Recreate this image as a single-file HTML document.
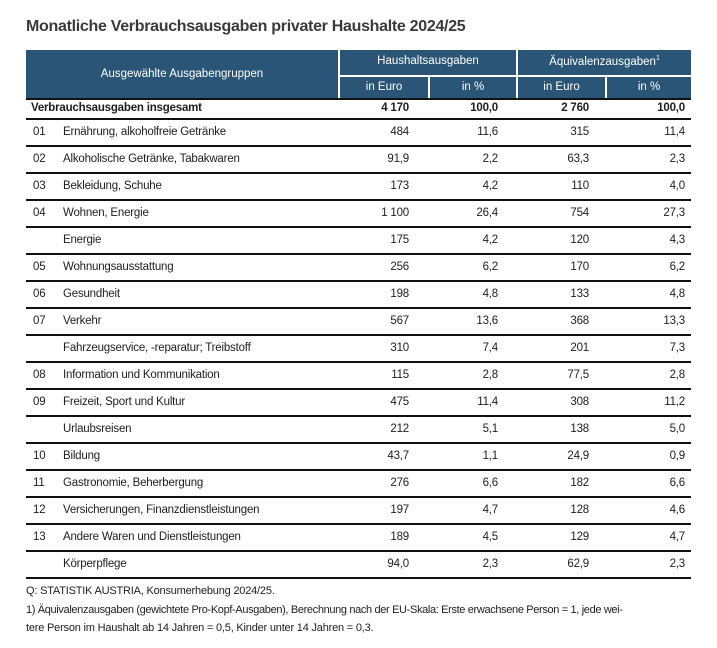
<!DOCTYPE html>
<html><head><meta charset="utf-8"><style>
body{margin:0;width:717px;height:648px;background:#fff;font-family:"Liberation Sans",Arial,sans-serif;color:#1e1e1e;position:relative;overflow:hidden}
.a{position:absolute;white-space:nowrap;font-size:11.5px;letter-spacing:-0.2px}
.r{text-align:right}
.h{position:absolute;background:#2a5577}
.w{color:#fff;font-size:11.5px;text-align:center;position:absolute;white-space:nowrap}
.l{position:absolute;left:26px;width:665px;height:1.5px;background:#111}
</style></head><body>
<div class="a" style="left:26px;top:18px;font-size:16px;font-weight:bold;color:#3a3a3a;letter-spacing:-0.3px">Monatliche Verbrauchsausgaben privater Haushalte 2024/25</div>
<div class="h" style="left:26px;top:50px;width:665px;height:48px"></div>
<div style="position:absolute;left:338px;top:50px;width:2px;height:48px;background:#fff"></div>
<div style="position:absolute;left:516px;top:50px;width:2px;height:48px;background:#fff"></div>
<div style="position:absolute;left:428px;top:76px;width:2px;height:22px;background:#fff"></div>
<div style="position:absolute;left:605px;top:76px;width:2px;height:22px;background:#fff"></div>
<div style="position:absolute;left:338px;top:75px;width:353px;height:2px;background:#fff"></div>
<div class="w" style="left:26px;width:312px;top:68px">Ausgewählte Ausgabengruppen</div>
<div class="w" style="left:340px;width:176px;top:55px">Haushaltsausgaben</div>
<div class="w" style="left:518px;width:173px;top:55px">Äquivalenzausgaben<sup style="font-size:7px">1</sup></div>
<div class="w" style="left:340px;width:88px;top:81px">in Euro</div>
<div class="w" style="left:430px;width:86px;top:81px">in %</div>
<div class="w" style="left:518px;width:87px;top:81px">in Euro</div>
<div class="w" style="left:607px;width:84px;top:81px">in %</div>
<div class="l" style="top:98px;height:2px"></div>
<div class="a" style="left:31px;top:102px;font-weight:bold">Verbrauchsausgaben insgesamt</div>
<div class="a r" style="right:308px;top:102px;font-weight:bold">4 170</div>
<div class="a r" style="right:219px;top:102px;font-weight:bold">100,0</div>
<div class="a r" style="right:128px;top:102px;font-weight:bold">2 760</div>
<div class="a r" style="right:32px;top:102px;font-weight:bold">100,0</div>
<div class="l" style="top:118px"></div>
<div id="rows"></div>
<script>
var d=[["01","Ernährung, alkoholfreie Getränke","484","11,6","315","11,4"],["02","Alkoholische Getränke, Tabakwaren","91,9","2,2","63,3","2,3"],["03","Bekleidung, Schuhe","173","4,2","110","4,0"],["04","Wohnen, Energie","1 100","26,4","754","27,3"],["","Energie","175","4,2","120","4,3"],["05","Wohnungsausstattung","256","6,2","170","6,2"],["06","Gesundheit","198","4,8","133","4,8"],["07","Verkehr","567","13,6","368","13,3"],["","Fahrzeugservice, -reparatur; Treibstoff","310","7,4","201","7,3"],["08","Information und Kommunikation","115","2,8","77,5","2,8"],["09","Freizeit, Sport und Kultur","475","11,4","308","11,2"],["","Urlaubsreisen","212","5,1","138","5,0"],["10","Bildung","43,7","1,1","24,9","0,9"],["11","Gastronomie, Beherbergung","276","6,6","182","6,6"],["12","Versicherungen, Finanzdienstleistungen","197","4,7","128","4,6"],["13","Andere Waren und Dienstleistungen","189","4,5","129","4,7"],["","Körperpflege","94,0","2,3","62,9","2,3"]];
var h="";d.forEach(function(r,i){var t=118+i*27+8;h+='<div class="a" style="left:33px;top:'+t+'px">'+r[0]+'</div><div class="a" style="left:63px;top:'+t+'px">'+r[1]+'</div>';
var rs=[308,219,128,32];for(var k=0;k<4;k++)h+='<div class="a r" style="right:'+rs[k]+'px;top:'+t+'px">'+r[k+2]+'</div>';
h+='<div class="l" style="top:'+(118+(i+1)*27)+'px"></div>';});
document.getElementById("rows").innerHTML=h;
</script>
<div class="a" style="left:26px;top:585px;font-size:11px">Q: STATISTIK AUSTRIA, Konsumerhebung 2024/25.</div>
<div class="a" style="left:26px;top:604px;font-size:11px;letter-spacing:-0.35px">1) Äquivalenzausgaben (gewichtete Pro-Kopf-Ausgaben), Berechnung nach der EU-Skala: Erste erwachsene Person = 1, jede wei-</div>
<div class="a" style="left:26px;top:622px;font-size:11px">tere Person im Haushalt ab 14 Jahren = 0,5, Kinder unter 14 Jahren = 0,3.</div>
</body></html>
